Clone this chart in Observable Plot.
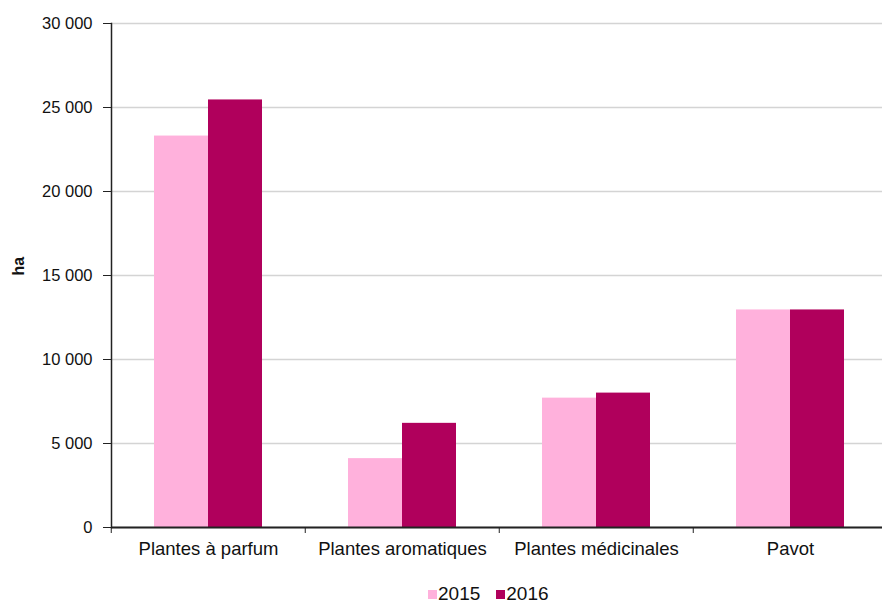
<!DOCTYPE html>
<html>
<head>
<meta charset="utf-8">
<script src="https://cdn.jsdelivr.net/npm/d3@7"></script>
<script src="https://cdn.jsdelivr.net/npm/@observablehq/plot@0.6"></script>
<style>
  html, body { margin: 0; padding: 0; background: #fff; }
  body { width: 882px; height: 603px; overflow: hidden; position: relative; font-family: "Liberation Sans", Arial, sans-serif; }
  #legend { position: absolute; left: 428px; top: 582px; display: flex; align-items: center; gap: 16px; font-size: 19px; color: #111; height: 24px; }
  #legend span.sw { display: inline-block; width: 9px; height: 9px; margin-right: 1px; }
  #legend .item { display: flex; align-items: center; }
</style>
</head>
<body>
<div id="chart"></div>
<div id="legend"></div>
<script>
const categories = ["Plantes à parfum", "Plantes aromatiques", "Plantes médicinales", "Pavot"];
const years = ["2015", "2016"];
const values2015 = [23300, 4100, 7700, 12950];
const values2016 = [25450, 6200, 8000, 12950];
const yTicks = [0, 5000, 10000, 15000, 20000, 25000, 30000];
const colors = ["#ffb1dc", "#b0005c"];

const rows = [];
categories.forEach((c, i) => {
  rows.push({category: c, year: years[0], value: values2015[i]});
  rows.push({category: c, year: years[1], value: values2016[i]});
});

const fmt = d => d3.format(",")(d).replace(/,/g, " ");
const fxRange = [110, 888];
const band = (fxRange[1] - fxRange[0]) / categories.length;

const chart = Plot.plot({
  width: 882,
  height: 566,
  marginTop: 23,
  marginBottom: 39,
  marginLeft: 110,
  marginRight: 0,
  style: {fontFamily: "Liberation Sans, Arial, sans-serif", color: "#111"},
  fx: {domain: categories, range: fxRange, padding: 0, label: null},
  x: {domain: years, paddingInner: 0, paddingOuter: 0.768, axis: null},
  y: {domain: [0, 30000], label: null},
  color: {domain: years, range: colors},
  marks: [
    Plot.gridY(yTicks, {stroke: "#d4d4d4", strokeOpacity: 1, strokeWidth: 1.6}),
    Plot.barY(rows, {fx: "category", x: "year", y: "value", fill: "year"}),
    Plot.ruleY([0], {stroke: "#222", strokeWidth: 1.8}),
    Plot.frame({anchor: "left", facetAnchor: "left", stroke: "#222", strokeWidth: 1.5}),
    Plot.axisY(yTicks, {tickFormat: fmt, tickSize: 8, tickPadding: 11, fontSize: 16.5, label: null, stroke: "#222", facetAnchor: "left"}),
    Plot.text(["ha"], {frameAnchor: "left", dx: -93, rotate: -90, fontWeight: "bold", fontSize: 16, facetAnchor: "left"}),
    Plot.axisFx({anchor: "bottom", tickSize: 0, tickPadding: 14, fontSize: 18.5, label: null}),
    Plot.axisFx({anchor: "bottom", tickSize: 6, text: null, dx: -band / 2, label: null, stroke: "#222"})
  ]
});
document.getElementById("chart").appendChild(chart);

const legend = document.getElementById("legend");
years.forEach((y, i) => {
  const item = document.createElement("div");
  item.className = "item";
  const sw = document.createElement("span");
  sw.className = "sw";
  sw.style.background = colors[i];
  item.appendChild(sw);
  item.appendChild(document.createTextNode(y));
  legend.appendChild(item);
});
</script>
</body>
</html>
